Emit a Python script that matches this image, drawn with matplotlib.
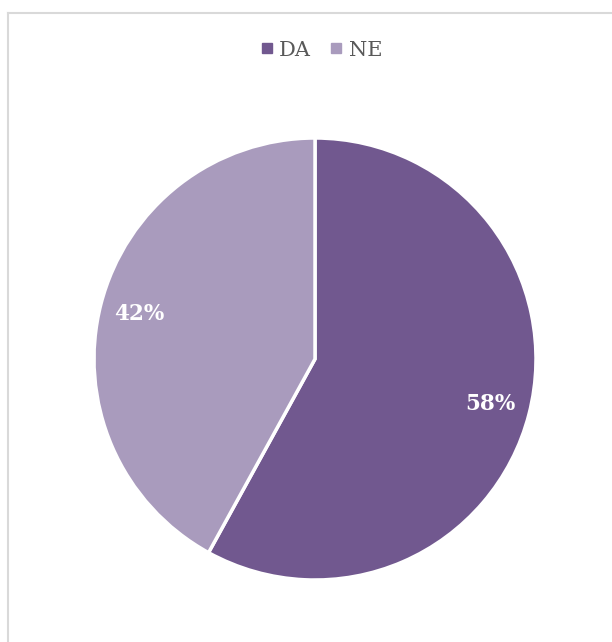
import matplotlib.pyplot as plt
from matplotlib.lines import Line2D

labels = ['DA', 'NE']
values = [58, 42]
colors = ['#71588F', '#A99BBD']

fig = plt.figure(figsize=(6.12, 6.42), dpi=100)

# light gray frame (only left and top edges visible)
fig.add_artist(Line2D([8/612, 8/612], [0, 1 - 13/642], color='#D9D9D9', lw=1.5))
fig.add_artist(Line2D([8/612, 1], [1 - 13/642, 1 - 13/642], color='#D9D9D9', lw=1.5))

ax = fig.add_axes([94/612, 62/642, 442/612, 442/642])
wedges, texts, autotexts = ax.pie(
    values, colors=colors, startangle=90, counterclock=False,
    autopct='%1.0f%%', pctdistance=0.82,
    wedgeprops=dict(edgecolor='white', linewidth=2.5),
    textprops=dict(color='white', fontsize=15.5, fontweight='bold', family='DejaVu Serif'))
ax.set_xlim(-1, 1)
ax.set_ylim(-1, 1)
ax.set_aspect('equal')

handles = [Line2D([], [], marker='s', linestyle='', color=c, markersize=7) for c in colors]
fig.legend(handles, labels, loc='center', bbox_to_anchor=(0.52, 1 - 50/642), ncol=2,
           frameon=False, handletextpad=0.0, columnspacing=0.6, handlelength=1.2,
           prop=dict(family='DejaVu Serif', size=15), labelcolor='#595959')

fig.savefig('out.png', dpi=100)
